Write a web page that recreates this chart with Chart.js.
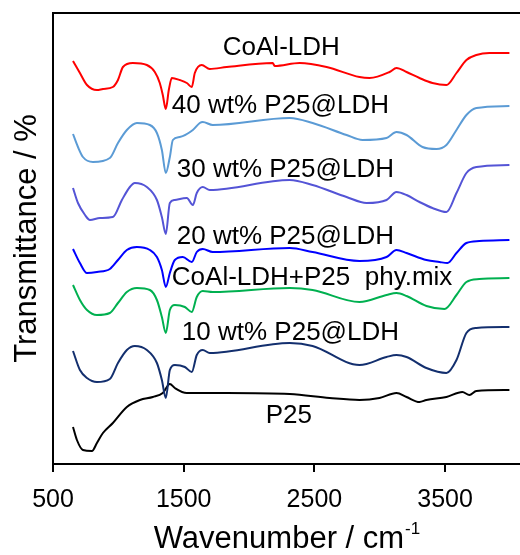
<!DOCTYPE html>
<html>
<head>
<meta charset="utf-8">
<script src="https://cdn.jsdelivr.net/npm/chart.js@4/dist/chart.umd.min.js"></script>
<style>
  html, body { margin: 0; padding: 0; background: #fff; }
  #wrap { width: 520px; height: 555px; }
</style>
</head>
<body>
<div id="wrap"><canvas id="ftirChart" width="520" height="555"></canvas></div>
<script>
// FTIR spectra, [wavenumber, transmittance (a.u., stacked)]
const coalLdh = [[653,80.6],[706,78.2],[760,75.8],[836,74.8],[882,75],[958,75.4],[997,76.8],[1035,79.4],[1111,80.2],[1218,79.8],[1279,78.4],[1317,76.2],[1340,73.8],[1363,71],[1386,74.8],[1409,77.2],[1470,76.8],[1524,76.2],[1562,75.4],[1585,78.2],[1638,79.8],[1699,79],[1829,79.4],[2181,80.2],[2196,79.6],[2387,80.2],[2593,79.4],[2845,77.4],[2922,77.2],[3075,78.4],[3128,79.2],[3205,78.4],[3304,77.2],[3403,76.2],[3510,75.8],[3587,78.2],[3663,80.8],[3739,81.8],[3839,82.2],[3992,82.2]];
const p25Ldh40 = [[653,66],[691,63.4],[729,61.4],[806,60.4],[935,61.2],[997,64.2],[1065,66.8],[1142,68.2],[1241,67.8],[1295,66.2],[1333,62.8],[1363,58.2],[1394,61.4],[1417,64.8],[1470,65.4],[1570,66.8],[1623,68.2],[1646,68.4],[1722,67.8],[2311,69.2],[2486,68.2],[2746,65.8],[2868,64.8],[3052,65.2],[3128,66.4],[3205,65.8],[3327,63.4],[3434,63],[3510,63.8],[3587,66.8],[3663,69.8],[3739,71.2],[3992,71.6]];
const p25Ldh30 = [[653,55.2],[691,52.2],[745,49.8],[783,48.8],[859,49.2],[958,49.4],[1027,52.8],[1088,55.4],[1126,56.2],[1218,55.4],[1295,52.8],[1333,49.4],[1363,46],[1394,52.2],[1432,52.8],[1524,53.2],[1570,51.8],[1600,54.2],[1646,55.4],[1699,54.8],[2311,56.8],[2486,55.8],[2746,53.4],[2899,52.2],[3052,52.8],[3128,54.4],[3205,53.8],[3304,52.4],[3403,51.2],[3510,50.4],[3587,54.2],[3663,58.2],[3739,59.4],[3992,59.8]];
const p25Ldh20 = [[653,43],[706,40.2],[760,38.2],[836,38.4],[935,39],[997,40.8],[1065,42.8],[1142,43.4],[1241,42.8],[1295,41.4],[1333,38.8],[1363,35.4],[1394,38.2],[1432,40.8],[1493,41.4],[1562,40.4],[1600,42.4],[1646,43],[1722,42.4],[2311,43.2],[2486,42.4],[2845,40.6],[3052,41.4],[3128,42.8],[3205,42.2],[3357,40.8],[3457,40.4],[3518,40.2],[3587,42.2],[3663,44.2],[3762,44.6],[3992,44.8]];
const phyMix = [[653,35.8],[706,32.8],[760,30.8],[836,29.8],[935,30.2],[997,32.2],[1065,34.4],[1142,35.2],[1241,34.8],[1295,32.8],[1333,29.4],[1363,26.2],[1394,30.8],[1432,31.8],[1509,31.4],[1562,30.4],[1600,33.4],[1646,34.6],[1722,34.4],[2311,35.2],[2486,34.8],[2845,32.4],[3052,33.8],[3128,34.2],[3205,33.6],[3357,31.6],[3495,31],[3587,33.8],[3663,36.4],[3762,37],[3992,37.2]];
const p25Ldh10 = [[653,22.6],[706,18.8],[760,17.2],[836,16.4],[935,17],[997,20.2],[1065,22.8],[1126,23.6],[1218,22.8],[1295,20.2],[1333,16.8],[1363,13.2],[1394,18.8],[1432,19.8],[1509,19.4],[1562,18.4],[1600,21.8],[1646,22.8],[1699,22.2],[2311,24.2],[2486,23.6],[2845,19.8],[3052,21.4],[3128,21.8],[3205,21.4],[3357,19.2],[3510,18.2],[3587,20.8],[3663,26.2],[3739,27.2],[3992,27.4]];
const p25 = [[653,7.4],[683,4.8],[729,2.8],[798,2.6],[836,4.2],[882,6.2],[958,8.2],[1065,11.4],[1165,12.8],[1264,13.4],[1340,14.2],[1394,16],[1432,15.2],[1524,14.2],[1623,14.2],[1829,14.2],[2311,14],[2616,13.2],[2845,12.8],[2998,13.2],[3128,14.2],[3205,13.4],[3304,12.4],[3357,12.8],[3510,13.4],[3632,14.4],[3686,13.8],[3739,14.6],[3992,14.8]];

const seriesNames = ['CoAl-LDH', '40 wt% P25@LDH', '30 wt% P25@LDH', '20 wt% P25@LDH',
                     'CoAl-LDH+P25  phy.mix', '10 wt% P25@LDH', 'P25'];
const seriesData = [coalLdh, p25Ldh40, p25Ldh30, p25Ldh20, phyMix, p25Ldh10, p25];
const seriesColors = ['#ff0000', '#5b9bd5', '#5454d6', '#0000ff', '#00b050', '#132f6e', '#000000'];
const xTicks = [500, 1500, 2500, 3500];

// where each curve's name sits (wavenumber of text start, transmittance at text middle)
const labelAnchors = [[1799,83.2],[1409,71.6],[1447,58.8],[1447,45.4],[1409,37.2],[1486,26.2],[2127,9.6]];

const FONT = '"Liberation Sans", Arial, sans-serif';

const curveLabels = {
    id: 'curveLabels',
    afterDatasetsDraw(chart) {
        const { ctx, scales: { x, y }, chartArea } = chart;
        ctx.save();
        // top frame line
        ctx.strokeStyle = '#000';
        ctx.lineWidth = 2;
        ctx.beginPath();
        ctx.moveTo(chartArea.left, chartArea.top);
        ctx.lineTo(chartArea.right, chartArea.top);
        ctx.stroke();

        ctx.fillStyle = '#000';
        ctx.font = '26px ' + FONT;
        ctx.textAlign = 'left';
        ctx.textBaseline = 'middle';
        seriesNames.forEach((name, i) => {
            const [wn, t] = labelAnchors[i];
            ctx.fillText(name, x.getPixelForValue(wn), y.getPixelForValue(t));
        });

        // x title with superscript
        const main = 'Wavenumber / cm';
        const sup = '-1';
        ctx.font = '31px ' + FONT;
        const wMain = ctx.measureText(main).width;
        ctx.font = '17px ' + FONT;
        const wSup = ctx.measureText(sup).width;
        const cx = (chartArea.left + chartArea.right) / 2;
        const startX = cx - (wMain + wSup) / 2;
        ctx.textBaseline = 'alphabetic';
        ctx.font = '31px ' + FONT;
        ctx.fillText(main, startX, 548);
        ctx.font = '17px ' + FONT;
        ctx.fillText(sup, startX + wMain + 1, 534);

        // y title
        ctx.font = '31px ' + FONT;
        ctx.textAlign = 'center';
        ctx.translate(36, (chartArea.top + chartArea.bottom) / 2);
        ctx.rotate(-Math.PI / 2);
        ctx.fillText('Transmittance / %', 0, 0);
        ctx.restore();
    }
};

new Chart(document.getElementById('ftirChart').getContext('2d'), {
    type: 'line',
    data: {
        datasets: seriesNames.map((name, i) => ({
            label: name,
            data: seriesData[i].map(([wn, t]) => ({ x: wn, y: t })),
            borderColor: seriesColors[i],
            borderWidth: 2,
            pointRadius: 0,
            fill: false,
            cubicInterpolationMode: 'monotone'
        }))
    },
    options: {
        responsive: false,
        animation: false,
        layout: { padding: { top: 13, right: 0, left: 0, bottom: 0 } },
        plugins: { legend: { display: false }, tooltip: { enabled: false } },
        scales: {
            x: {
                type: 'linear',
                min: 500,
                max: 4073,
                afterBuildTicks: (s) => { s.ticks = xTicks.map(v => ({ value: v })); },
                afterFit: (s) => { s.height = 91; },
                ticks: { color: '#000', font: { size: 25, family: FONT }, padding: 13, maxRotation: 0,
                         callback: (v) => String(v) },
                grid: { drawOnChartArea: false, tickLength: 8, color: '#000', lineWidth: 2 },
                border: { color: '#000', width: 2 }
            },
            y: {
                min: 0,
                max: 90.2,
                afterFit: (s) => { s.width = 53; },
                ticks: { display: false },
                grid: { display: false },
                border: { color: '#000', width: 2 }
            }
        }
    },
    plugins: [curveLabels]
});
</script>
</body>
</html>
